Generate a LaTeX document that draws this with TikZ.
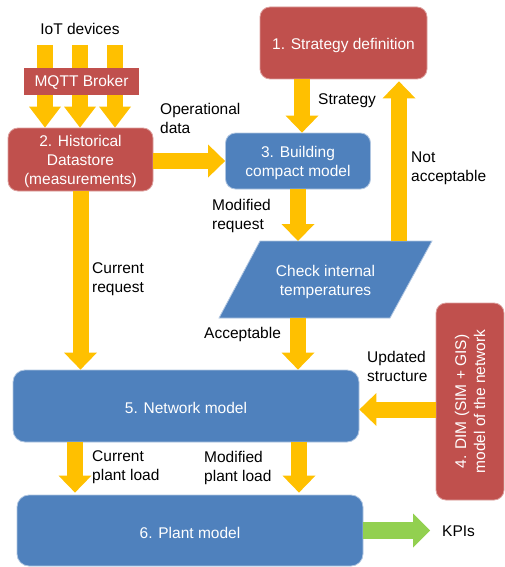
\documentclass[tikz,border=0pt]{standalone}
\usepackage{fontspec}
\setmainfont{Liberation Sans}
\usetikzlibrary{arrows.meta}
\definecolor{bred}{HTML}{C0504D}
\definecolor{bblue}{HTML}{4F81BD}
\definecolor{arry}{HTML}{FFC000}
\definecolor{arrg}{HTML}{92D050}
\begin{document}
\begin{tikzpicture}[x=1pt,y=-1pt,
  font=\fontsize{15.5}{19}\selectfont,
  box/.style={rounded corners=10pt, inner sep=0pt, line width=0.8pt},
  boxtext/.style={text=white, align=center, inner sep=0pt, yshift=-2pt},
  redbox/.style={box, fill=bred, draw=bred!55!white},
  bluebox/.style={box, fill=bblue, draw=bblue!45!white},
  barrow/.style={draw=arry, line width=16pt, -{Triangle[width=33pt,length=17pt,line width=0pt]}},
  iotarrow/.style={draw=arry, line width=16pt, -{Triangle[width=32pt,length=21pt,line width=0pt]}},
  garrow/.style={draw=arrg, line width=17pt, -{Triangle[width=34pt,length=17pt,line width=0pt]}},
  lbl/.style={anchor=west, align=left, inner sep=0pt}]
\useasboundingbox (0,0) rectangle (505,567);

% boxes
\node[redbox, minimum width=167pt, minimum height=72pt,
  label={[boxtext]center:1. Strategy definition}] (box1) at (343.5,43) {};
\node[redbox, minimum width=145pt, minimum height=63pt,
  label={[boxtext]center:2. Historical\\Datastore\\(measurements)}] (box2) at (80.5,159.5) {};
\node[bluebox, minimum width=145pt, minimum height=56pt,
  label={[boxtext]center:3. Building\\compact model}] (box3) at (298,161) {};
\node[redbox, minimum width=197pt, minimum height=68pt, rotate=90, text=white, align=center] (box4) at (470,401.5) {4. DIM (SIM + GIS)\\model of the network};
\node[bluebox, minimum width=346pt, minimum height=72pt, rounded corners=12pt,
  label={[boxtext]center:5. Network model}] (box5) at (186,406) {};
\node[bluebox, minimum width=346pt, minimum height=71pt, rounded corners=12pt,
  label={[boxtext]center:6. Plant model}] (box6) at (190,530.5) {};

% parallelogram
\coordinate (pTL) at (260,241);
\coordinate (pTR) at (432,241);
\coordinate (pBR) at (390,318);
\coordinate (pBL) at (219,318);
\filldraw[fill=bblue, draw=bblue!45!white, line width=0.8pt] (pTL) -- (pTR) -- (pBR) -- (pBL) -- cycle;
\node[text=white, align=center, inner sep=0pt] (check) at (325.5,282) {Check internal\\temperatures};

% helper coordinates
\coordinate (iot1) at (45,45);
\coordinate (iot2) at (80,45);
\coordinate (iot3) at (115,45);
\coordinate (xS) at (302,0);
\coordinate (xN) at (399,0);
\coordinate (xC) at (75,0);
\coordinate (xM) at (299,0);
\coordinate (yU) at (0,409.5);

% arrows
\draw[iotarrow] (iot1) -- (iot1 |- box2.north);
\draw[iotarrow] (iot2) -- (iot2 |- box2.north);
\draw[iotarrow] (iot3) -- (iot3 |- box2.north);
\node[fill=bred, minimum width=115pt, minimum height=27pt, inner sep=0pt,
  label={[boxtext, yshift=1pt]center:MQTT Broker}] (mqtt) at (81.5,81.5) {};

\draw[barrow] (box2.east |- box3.west) -- (box3.west);
\draw[barrow] (box1.south -| xS) -- (box3.north -| xS);
\draw[barrow, shorten >=2pt] (pTL -| xN) -- (box1.south -| xN);
\draw[barrow] (box3.south) -- (box3.south |- pTL);
\draw[barrow] (pBL -| box3.south) -- (box5.north -| box3.south);
\draw[barrow] (box2.south) -- (box5.north -| box2.south);
\draw[barrow] (box4.north |- yU) -- (box5.east |- yU);
\draw[barrow, shorten >=2pt] (box5.south -| xC) -- (box6.north -| xC);
\draw[barrow, shorten >=2pt] (box5.south -| xM) -- (box6.north -| xM);

\node[lbl, inner xsep=12pt] (kpi) at (430,531.5) {KPIs};
\draw[garrow] (box6.east) -- (box6.east -| kpi.west);

% labels
\node[inner sep=0pt] (iot) at (80,28.5) {IoT devices};
\node[lbl] (lop) at (160,118) {Operational\\data};
\node[lbl] (lst) at (318,100.5) {Strategy};
\node[lbl] (lna) at (411,168) {Not\\acceptable};
\node[lbl] (lmr) at (212,216) {Modified\\request};
\node[lbl] (lcr) at (92,279) {Current\\request};
\node[lbl] (lac) at (204,334.5) {Acceptable};
\node[lbl] (lus) at (367,366.5) {Updated\\structure};
\node[lbl] (lcp) at (92,467.5) {Current\\plant load};
\node[lbl] (lmp) at (204,467.5) {Modified\\plant load};
\end{tikzpicture}
\end{document}
